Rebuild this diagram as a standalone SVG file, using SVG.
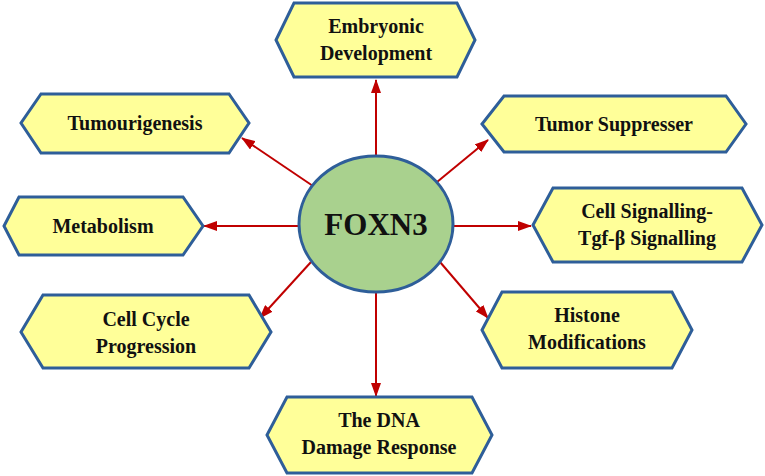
<svg xmlns="http://www.w3.org/2000/svg" width="765" height="476" viewBox="0 0 765 476">
<style>
.hex{fill:#ffff99;stroke:#2e5e99;stroke-width:3}
.t{font-family:"Liberation Serif",serif;font-weight:bold;font-size:20px;text-anchor:middle;fill:#111}
.c{stroke:#c00000;stroke-width:2;fill:none;marker-end:url(#a)}
</style>
<defs><marker id="a" markerWidth="14" markerHeight="10" refX="13" refY="5" orient="auto" markerUnits="userSpaceOnUse"><path d="M0,0L14,5L0,10Z" fill="#c00000"/></marker></defs>
<rect width="765" height="476" fill="#fff"/>
<g id="connectors">
<path class="c" d="M376,155V80"/>
<path class="c" d="M313,186L242,138"/>
<path class="c" d="M299,226H204"/>
<path class="c" d="M311,262L260,318"/>
<path class="c" d="M376,292V396"/>
<path class="c" d="M437,182L488,140"/>
<path class="c" d="M454,226H531"/>
<path class="c" d="M440,262L488,318"/>
</g>
<g id="foxn3"><ellipse cx="376" cy="224" rx="77" ry="68" fill="#a9d18e" stroke="#2e5e99" stroke-width="3"/><text x="376" y="235" class="t" style="font-size:31px">FOXN3</text></g>
<g id="embryonic"><polygon class="hex" points="294,3 457,3 475,40 457,77 294,77 276,40"/><text class="t" x="376" y="33">Embryonic</text><text class="t" x="376" y="60">Development</text></g>
<g id="tumourigenesis"><polygon class="hex" points="41,94 229,94 249,123 229,153 41,153 21,123"/><text class="t" x="135" y="130">Tumourigenesis</text></g>
<g id="metabolism"><polygon class="hex" points="19,197 183,197 203,226 183,255 19,255 4,226"/><text class="t" x="103" y="233">Metabolism</text></g>
<g id="cellcycle"><polygon class="hex" points="43,295 249,295 271,332 249,368 43,368 21,332"/><text class="t" x="146" y="326">Cell Cycle</text><text class="t" x="146" y="353">Progression</text></g>
<g id="dna"><polygon class="hex" points="287,397 472,397 492,435 472,473 287,473 267,435"/><text class="t" x="379" y="427">The DNA</text><text class="t" x="379" y="454">Damage Response</text></g>
<g id="tumorsupp"><polygon class="hex" points="504,96 726,96 746,124 726,152 504,152 482,124"/><text class="t" x="614" y="131">Tumor Suppresser</text></g>
<g id="cellsig"><polygon class="hex" points="553,188 742,188 762,225 742,262 553,262 533,225"/><text class="t" x="647" y="218">Cell Signalling-</text><text class="t" x="647" y="245">Tgf-β Signalling</text></g>
<g id="histone"><polygon class="hex" points="502,292 672,292 692,330 672,368 502,368 482,330"/><text class="t" x="587" y="322">Histone</text><text class="t" x="587" y="349">Modifications</text></g>
</svg>
